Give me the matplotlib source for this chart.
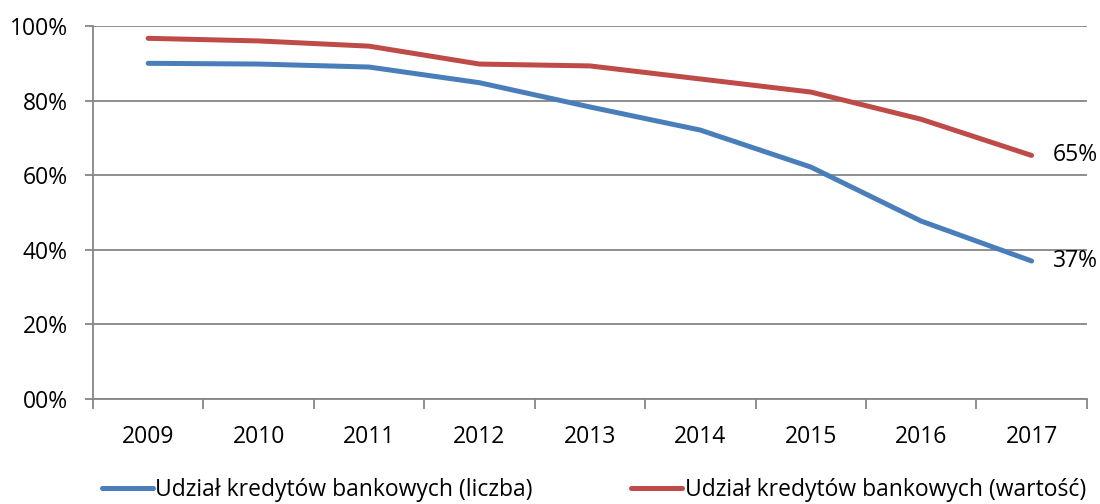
import numpy as np
import matplotlib.pyplot as plt

# data
years = ['2009', '2010', '2011', '2012', '2013', '2014', '2015', '2016', '2017']
liczba = [90.0, 89.8, 89.0, 84.8, 78.3, 72.1, 62.2, 47.7, 37.0]
wartosc = [96.7, 96.0, 94.6, 89.8, 89.3, 85.8, 82.3, 75.0, 65.3]
y_ticks = [0, 20, 40, 60, 80, 100]
y_labels = ['00%', '20%', '40%', '60%', '80%', '100%']

plt.rcParams['font.family'] = ['Open Sans', 'DejaVu Sans']
fs = 16.5

fig = plt.figure(figsize=(11, 5.04), dpi=100)
ax = fig.add_axes([0.0845, 0.2083, 0.9035, 0.7401])

x = np.arange(len(years))
grid_col = '#868686'
for v in y_ticks:
    ax.axhline(v, color=grid_col, lw=1.3, zorder=1)

ax.plot(x, liczba, color='#4A7EBB', lw=3.6, solid_capstyle='round',
        label='Udział kredytów bankowych (liczba)', zorder=3)
ax.plot(x, wartosc, color='#BE4B48', lw=3.6, solid_capstyle='round',
        label='Udział kredytów bankowych (wartość)', zorder=3)

ax.text(x[-1] + 0.19, wartosc[-1], f'{wartosc[-1]:.0f}%', fontsize=fs,
        va='center', ha='left')
ax.text(x[-1] + 0.19, liczba[-1], f'{liczba[-1]:.0f}%', fontsize=fs,
        va='center', ha='left')

ax.set_xlim(-0.5, len(years) - 0.5)
ax.set_ylim(0, 100)
ax.set_xticks(x)
ax.set_xticklabels(years, fontsize=fs)
ax.set_xticks(np.arange(-0.5, len(years)), minor=True)
ax.tick_params(axis='x', which='major', length=0, pad=19)
ax.tick_params(axis='x', which='minor', length=7, color=grid_col, width=1.3)
ax.set_yticks(y_ticks)
ax.set_yticklabels(y_labels, fontsize=fs)
ax.tick_params(axis='y', length=6, color=grid_col, width=1.3, pad=12)

for s in ['top', 'right']:
    ax.spines[s].set_visible(False)
for s in ['left', 'bottom']:
    ax.spines[s].set_color(grid_col)
    ax.spines[s].set_linewidth(1.3)

fig.legend(loc='lower center', bbox_to_anchor=(0.54, -0.037), ncol=2,
           frameon=False, fontsize=fs, handlelength=2.2, handletextpad=0.12,
           columnspacing=4.3)

fig.savefig('out.png', dpi=100)
